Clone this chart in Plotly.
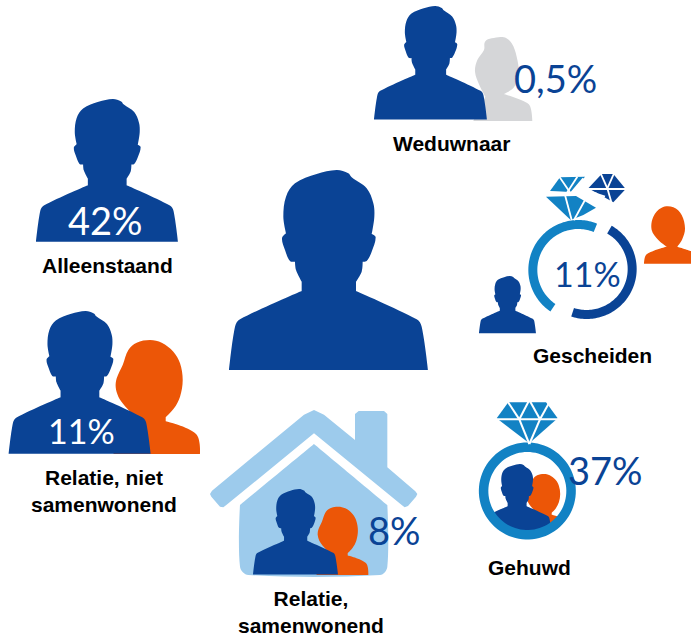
import math
import numpy as np
import plotly.graph_objects as go

# ---- data ----
categories = ["Alleenstaand", "Relatie, niet<br>samenwonend", "Relatie,<br>samenwonend",
              "Gehuwd", "Gescheiden", "Weduwnaar"]
values = [42, 11, 8, 37, 11, 0.5]

# ---- palette ----
NAVY, ORANGE, RING, GREY, SKY = "#0a4395", "#ec5607", "#1282c4", "#d5d6d8", "#9dcbec"

# ---- glyph outlines (pictogram drawing, in crop-local units; 1 flags a corner) ----
MAN = [(27,630,1),(45,500),(60,478),(245,393,1),(245,365,1),(228,330),(225,305,1),(210,303),(195,270),
       (186,235),(198,220,1),(190,170),(198,110),(225,70),(290,42),(350,30),(385,40),(395,52),(440,85),
       (460,130),(463,170),(455,222,1),(467,232),(455,275),(440,303),(428,305,1),(425,335),(408,365,1),
       (408,393,1),(590,478),(605,500),(624,630,1)]
WOMAN = [(600,462,1),(588,402),(497,364,1),(497,352,1),(522,325),(540,290),(548,240),(540,190),(520,155),
         (485,128),(450,120),(410,128),(385,150),(368,195),(350,235),(347,262),(355,290),(372,315),(400,345,1),(340,462,1)]
WIDOW = [(517,363,1),(510,318),(490,303),(432,282,1),(462,262),(476,220),(470,170),(455,130),(432,112),
         (395,115),(375,125),(372,150),(352,180),(345,215),(358,255),(376,290,1),(340,363,1)]
EX_WIFE = [(522,296,1),(530,268),(590,245,1),(565,225),(545,195),(550,155),(575,128),(610,127),(635,150),
           (645,190),(637,222),(622,245,1),(663,258,1),(663,296,1)]


def smooth(pts, x0, y0, s):
    P = [(x0 + p[0] * s, y0 + p[1] * s) for p in pts]
    C = [len(p) > 2 for p in pts]
    n = len(P)
    d = f"M{P[0][0]:.2f},{P[0][1]:.2f}"
    def tan(i):
        if C[i]:
            return (0.0, 0.0)
        a, b = P[i - 1], P[(i + 1) % n]
        dx, dy = b[0] - a[0], b[1] - a[1]
        L = math.hypot(dx, dy) or 1
        return dx / L, dy / L
    for i in range(n):
        j = (i + 1) % n
        L = math.hypot(P[j][0] - P[i][0], P[j][1] - P[i][1]) / 3
        t0, t1 = tan(i), tan(j)
        d += (f"C{P[i][0]+t0[0]*L:.2f},{P[i][1]+t0[1]*L:.2f} "
              f"{P[j][0]-t1[0]*L:.2f},{P[j][1]-t1[1]*L:.2f} {P[j][0]:.2f},{P[j][1]:.2f}")
    return d + "Z"


def poly(pts, x0=0, y0=0, s=1):
    return "M" + "L".join(f"{x0+a*s:.2f},{y0+b*s:.2f}" for a, b in pts) + "Z"


shapes = []
def add(path, color):
    shapes.append(dict(type="path", path=path, fillcolor=color, line=dict(width=0), layer="above"))

def white_line(a, b, w):
    shapes.append(dict(type="line", x0=a[0], y0=a[1], x1=b[0], y1=b[1], line=dict(color="white", width=w), layer="above"))

def man(left, top, right, color=NAVY):
    s = (right - left) / 597
    add(smooth(MAN, left - 27 * s, top - 30 * s, s), color)

def woman(left, top, s):
    add(smooth(WOMAN, left - 347 * s, top - 120 * s, s), ORANGE)

def arc(cx, cy, r0, r1, a0, a1, color):
    ang = np.radians(np.linspace(a0, a1, 90))
    outer = [(cx + r1 * math.sin(t), cy - r1 * math.cos(t)) for t in ang]
    inner = [(cx + r0 * math.sin(t), cy - r0 * math.cos(t)) for t in ang[::-1]]
    add(poly(outer + inner), color)


# central figure and Alleenstaand
man(229, 170, 428)
man(36, 99, 178)

# Relatie, niet samenwonend
woman(115.7, 340, 1 / 3)
man(8.7, 311, 150.7)

# house
hx, hy, hs = 200, 400, 1 / 3
add(poly([(36,272),(30,282),(34,290),(60,320),(70,322),(78,316),(342,100),(606,316),(614,322),(624,318),(648,290),
          (652,282),(646,274),(562,202),(562,42),(552,33),(476,33),(465,42),(465,120),(372,44),(342,30),(312,44)], hx, hy, hs), SKY)
add(smooth([(120,315,1),(342,132,1),(562,315,1),(562,500),(540,525),(145,525),(120,500)], hx, hy, hs), SKY)
woman(317.7, 506.7, 0.2)
man(253, 489, 338)

# Weduwnaar
add(smooth(WIDOW, 360, 0, 1 / 3), GREY)
man(374, 6, 487)

# Gehuwd: ring, people masked by a white band, diamond
gx, gy, gs = 460, 390, 1 / 3
woman(526.7, 474, 0.5 / 3)
man(482.3, 464, 551.7)
cx, cy = gx + 202 * gs, gy + 303 * gs
arc(cx, cy, 47, 68, 0, 360, "white")
arc(cx, cy, 39, 48.5, 0, 360, RING)

def Z(x, y):
    return (gx + x * gs, gy + y * gs)

add(poly([(145,37),(258,37),(293,85),(208,160),(110,85)], gx, gy, gs), RING)
for a, b in [((105,88),(298,88)), ((140,30),(178,88)), ((178,88),(208,30)), ((208,30),(240,88)),
             ((240,88),(272,30)), ((178,88),(208,162)), ((240,88),(208,162))]:
    white_line(Z(*a), Z(*b), 2)

# Gescheiden: broken ring and broken diamond
qx, qy, qs = 470, 165, 1 / 3
arc(qx + 325 * qs, qy + 315 * qs, 41, 50, 214, 382, RING)
arc(qx + 350 * qs, qy + 312 * qs, 41, 50, 30, 198, NAVY)

def Q(x, y):
    return (qx + x * qs, qy + y * qs)

add(poly([(228,95),(318,93),(378,128),(340,150),(302,165)], qx, qy, qs), RING)
add(poly([(270,37),(345,35),(305,82),(240,78)], qx, qy, qs), RING)
add(poly([(395,27),(430,27),(467,72),(430,112),(355,70)], qx, qy, qs), NAVY)
for a, b in [((285,90),(305,165)), ((345,105),(312,165)), ((268,35),(302,85)), ((340,40),(302,85)),
             ((322,35),(290,85)), ((235,82),(380,85)), ((392,25),(412,70)), ((432,25),(412,70)),
             ((350,72),(470,72)), ((412,70),(425,115)), ((375,85),(405,95))]:
    white_line(Q(*a), Q(*b), 1.8)
add(smooth(EX_WIFE, qx, qy, qs), ORANGE)
man(479, 276, 536)

# ---- text ----
anchors = {
    "label": [(107, 265), (104, 491), (311, 612), (529, 567), (592.7, 355), (451, 143)],
    "value": [(105, 220), (81, 430), (394, 530), (605, 470), (587, 273), (555.5, 78)],
    "size": [38, 34, 38, 38, 34, 38],
    "color": ["white", "white", NAVY, NAVY, NAVY, NAVY],
}
annotations = []
for cat, val, lp, vp, sz, col in zip(categories, values, anchors["label"], anchors["value"], anchors["size"], anchors["color"]):
    annotations.append(dict(x=lp[0], y=lp[1], text=f"<b>{cat}</b>", showarrow=False, xanchor="center", yanchor="middle",
                            font=dict(family="Liberation Sans Narrow, Liberation Sans", size=21, color="#000000"),
                            align="center"))
    annotations.append(dict(x=vp[0], y=vp[1], text=f"{val:g}".replace(".", ",") + "%", showarrow=False,
                            xanchor="center", yanchor="middle",
                            font=dict(family="Lato", size=sz, color=col, weight=400)))

fig = go.Figure()
fig.update_layout(
    width=691, height=638, margin=dict(l=0, r=0, t=0, b=0), autosize=False,
    paper_bgcolor="white", plot_bgcolor="white", showlegend=False,
    xaxis=dict(range=[0, 691], visible=False, fixedrange=True),
    yaxis=dict(range=[638, 0], visible=False, fixedrange=True),
    shapes=shapes, annotations=annotations,
)
fig.write_html("out.html", config=dict(displayModeBar=False),
               post_script="document.body.style.margin='0';document.documentElement.style.overflow='hidden';")
